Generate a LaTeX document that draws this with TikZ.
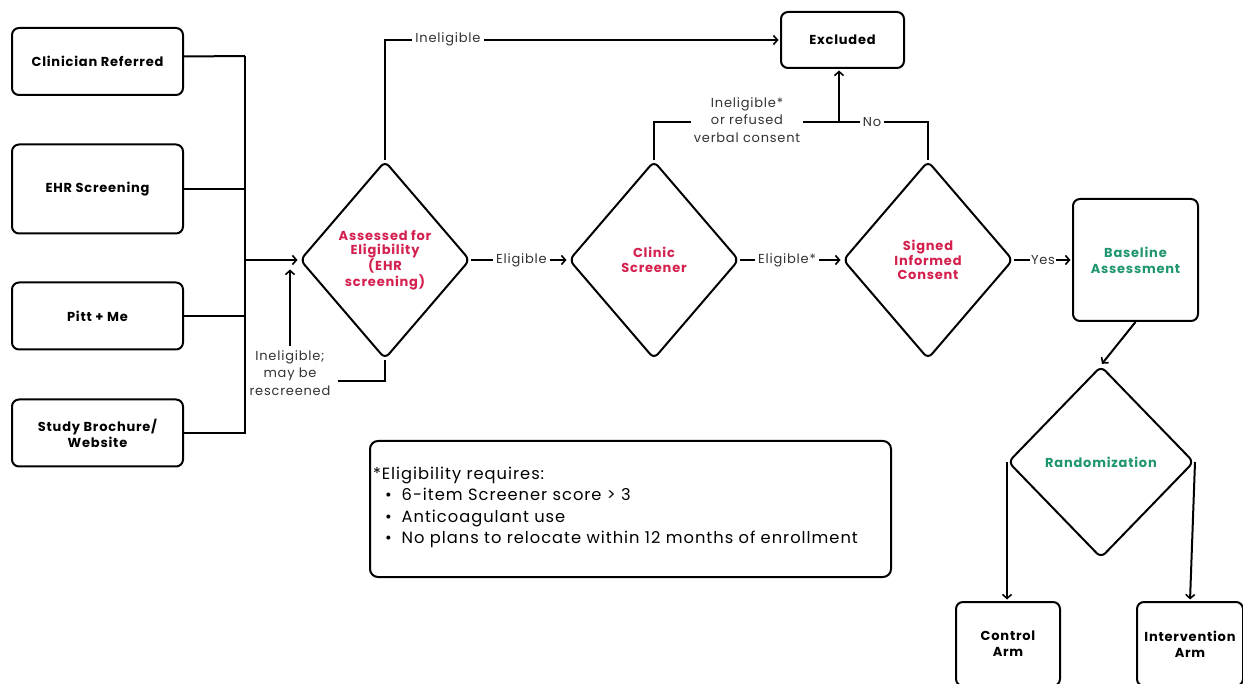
\documentclass[tikz,border=0pt]{standalone}
\usepackage{fontspec}
\setmainfont{Poppins}[LetterSpace=6]
\usetikzlibrary{shapes.geometric,arrows.meta}
\definecolor{cred}{HTML}{D3204E}
\definecolor{cgreen}{HTML}{1F9570}
\definecolor{cgray}{HTML}{333333}
\begin{document}
\begin{tikzpicture}[x=1pt,y=-1pt,
 line width=2pt,
 arr/.style={-{Straight Barb[length=4pt,width=9pt,line width=1.6pt]}, shorten >=1.5pt},
 box/.style={draw, rounded corners=7pt, align=center, inner sep=2pt,
   font=\bfseries\fontsize{13}{16}\selectfont},
 dia/.style={draw, diamond, rounded corners=6pt, align=center, inner sep=0pt,
   font=\bfseries\fontsize{13}{14.5}\selectfont},
 lab/.style={fill=white, inner sep=3pt, align=center, text=cgray,
   font=\fontsize{13}{17.5}\selectfont}
]
\useasboundingbox (0,0) rectangle (1243,684);

% sources
\node[box, minimum width=171pt, minimum height=67pt] (cr) at (97.5,61.5) {Clinician Referred};
\node[box, minimum width=171pt, minimum height=89pt] (ehr) at (97.5,189) {EHR Screening};
\node[box, minimum width=171pt, minimum height=67pt] (pitt) at (97.5,316) {Pitt + Me};
\node[box, minimum width=171pt, minimum height=67pt] (study) at (97.5,433) {Study Brochure/\\Website};

% decision diamonds
\node[dia, minimum width=170pt, minimum height=198pt, text=cred] (d1) at (385,260) {Assessed for\\Eligibility\\(EHR\\screening)};
\node[dia, minimum width=170pt, minimum height=198pt, text=cred] (d2) at (654,260) {Clinic\\Screener};
\node[dia, minimum width=170pt, minimum height=198pt, text=cred] (d3) at (928,260) {Signed\\Informed\\Consent};

\node[box, minimum width=123pt, minimum height=56pt] (exc) at (842.5,40) {Excluded};
\node[box, minimum width=125pt, minimum height=122pt, text=cgreen] (base) at (1135.5,260) {Baseline\\Assessment};

\node[dia, minimum width=186pt, minimum height=192pt, text=cgreen] (rnd) at (1101,462) {Randomization};

\node[box, minimum width=104pt, minimum height=84pt] (ctrl) at (1008,644) {Control\\Arm};
\node[box, minimum width=106pt, minimum height=84pt] (int) at (1190,644) {Intervention\\Arm};

% bus
\coordinate (bt) at (245,56);
\coordinate (bb) at (245,434);
\coordinate (bm) at (245,260);
\draw (bt) -- (bb);
\draw ([yshift=5pt]cr.east) -- (bt);
\draw (ehr.east) -- (ehr.east -| bt);
\draw (pitt.east) -- (pitt.east -| bt);
\draw (study.east) -- (study.east -| bt);
\draw[arr] (bm) -- (d1.west);

% top: ineligible to excluded
\draw[arr] (d1.north) |- (exc.west);
\node[lab] (l1) at (448,39) {Ineligible};

% bottom: rescreen
\node[lab, fill=none] (resc) at (290,373) {Ineligible;\\may be\\rescreened};
\coordinate (rl) at (338,381);
\draw (d1.south) |- (rl);
\draw[arr] (resc.north) -- (resc.north |- 0,268);

% clinic / consent to excluded
\coordinate (dj) at (839,122);
\draw (d2.north) |- (dj) -| (d3.north);
\draw[arr] (dj) -- (dj |- exc.south);
\node[lab] (l2) at (747,120) {Ineligible*\\or refused\\verbal consent};
\node[lab] (l3) at (872,122) {No};

% main flow
\draw[arr] (d1.east) -- (d2.west) node[lab, midway, xshift=2pt] {Eligible};
\draw[arr] (d2.east) -- (d3.west) node[lab, midway, xshift=-4pt] {Eligible*};
\draw[arr] (d3.east) -- (base.west) node[lab, midway, inner sep=1pt] {Yes};
\draw[arr] (base.south) -- (rnd.north);
\draw[arr] (rnd.west) -- (rnd.west |- ctrl.north);
\draw[arr] (rnd.east) -- (int.north);

% note
\node[draw, rounded corners=8pt, minimum width=521pt, minimum height=136pt] (note) at (630.5,509) {};
\node[anchor=west, align=left, inner sep=0pt, font=\fontsize{16.3}{21.5}\selectfont] (notetext) at (372,507.5)
 {*Eligibility requires:\\
  \hspace*{12pt}\textbullet\hspace{10pt}6-item Screener score > 3\\
  \hspace*{12pt}\textbullet\hspace{10pt}Anticoagulant use\\
  \hspace*{12pt}\textbullet\hspace{10pt}No plans to relocate within 12 months of enrollment};
\end{tikzpicture}
\end{document}
